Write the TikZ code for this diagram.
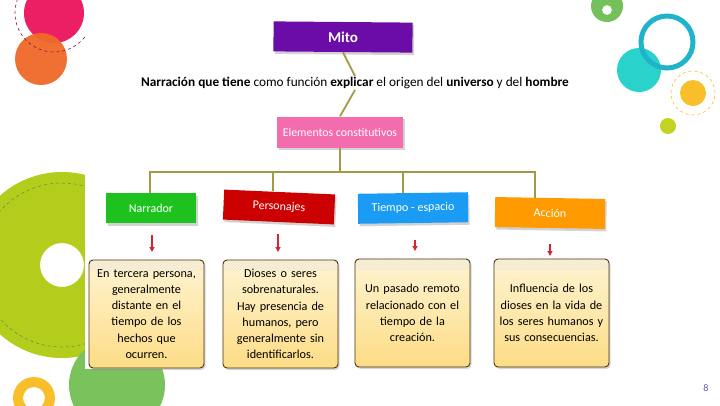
\documentclass[tikz,border=0pt]{standalone}
\usepackage{fontspec}
\setmainfont{Carlito}
\usetikzlibrary{shadows,arrows.meta,patterns}
\definecolor{mpurple}{HTML}{6B0CA8}
\definecolor{mpink}{HTML}{F36CAE}
\definecolor{mgreen}{HTML}{1EC21E}
\definecolor{mred}{HTML}{CC0000}
\definecolor{mblue}{HTML}{1B9CF4}
\definecolor{morange}{HTML}{FF9A00}
\definecolor{olive}{HTML}{A39A45}
\definecolor{arrred}{HTML}{D32630}
\definecolor{cpink}{HTML}{EC1E64}
\definecolor{corange}{HTML}{F0692A}
\definecolor{clime}{HTML}{B4CC1C}
\definecolor{cgreen}{HTML}{7AC35C}
\definecolor{cyellow}{HTML}{F9BF2B}
\definecolor{cteal}{HTML}{1FB4CA}
\definecolor{cturq}{HTML}{29D2CA}
\definecolor{csmall}{HTML}{C4D225}
\definecolor{ctopgreen}{HTML}{74C05A}
\definecolor{boxtop}{HTML}{FFF4D2}
\definecolor{boxbot}{HTML}{FCDC85}
\definecolor{boxborder}{HTML}{4A3210}
\tikzset{
  catbox/.style={minimum width=90pt, minimum height=30pt, inner sep=0pt, text=white, font=\fontsize{12}{12}\selectfont,
     drop shadow={opacity=0.35, shadow xshift=1.5pt, shadow yshift=-2.5pt}},
  infobox/.style={draw=boxborder, line width=0.9pt, rounded corners=4pt, top color=boxtop, bottom color=boxbot,
     minimum width=112pt, minimum height=108pt, inner sep=2pt, align=center, text width=111pt,
     font=\fontsize{12.2}{16.2}\selectfont, drop shadow={opacity=0.3, shadow xshift=1.5pt, shadow yshift=-2pt},
     path picture={\fill[pattern=north east lines, pattern color=boxborder!14]
        (path picture bounding box.north west) rectangle ([yshift=-11pt]path picture bounding box.north east);}},
  conn/.style={draw=olive, line width=1.8pt},
  darr/.style={draw=arrred, line width=1.2pt, -{Triangle[length=5pt,width=5pt]}},
}
\begin{document}
\begin{tikzpicture}[x=1pt,y=-1pt]
\useasboundingbox (0,0) rectangle (720,405);
\fill[white] (0,0) rectangle (720,405);
% decorative circles, left
\fill[clime, even odd rule] (62,265) circle[radius=93pt] (62,265) circle[radius=22pt];
\draw[green!40!black!70, dashed, line width=0.5pt] (62,265) circle[radius=82pt];
\fill[cgreen] (117,385) circle[radius=48pt];
\fill[cyellow, even odd rule] (34,398) circle[radius=21pt] (34,398) circle[radius=11pt];
\fill[cpink] (54,13) circle[radius=30pt];
\fill[corange, opacity=0.95] (41,59) circle[radius=26pt];
\draw[cpink!60!black, dashed, line width=0.6pt] (54,13) circle[radius=39pt];
% decorative circles, right
\fill[cturq] (639,70) circle[radius=22pt];
\draw[cteal, line width=5pt] (667,42) circle[radius=26pt];
\fill[cyellow] (693,93) circle[radius=13pt];
\draw[cyellow!80!orange, dashed, line width=0.5pt] (693,93) circle[radius=22pt];
\fill[csmall] (668,126) circle[radius=8pt];
% white panel
\fill[white] (85,0) rectangle (615,369);
\fill[ctopgreen, even odd rule] (607,6) circle[radius=16pt] (607,10) circle[radius=5pt];
% page number
\node[text=gray!70!blue, font=\fontsize{10}{10}\selectfont] (pg) at (706,388) {8};
% nodes
\node[catbox, fill=mpurple, minimum width=139pt, minimum height=30pt, font=\fontsize{15}{15}\selectfont\bfseries, rotate=-0.5] (mito) at (343,37) {Mito};
\node[font=\fontsize{13.3}{14}\selectfont, inner sep=1pt] (desc) at (355,83) {\textbf{Narración que tiene} como función \textbf{explicar} el origen del \textbf{universo} y del \textbf{hombre}};
\node[catbox, fill=mpink, minimum width=126pt, minimum height=31pt, font=\fontsize{11.8}{12}\selectfont] (elem) at (340,132) {Elementos constitutivos};
\node[catbox, fill=mgreen] (narr) at (151,208) {Narrador};
\node[catbox, fill=mred, minimum width=111pt, rotate=-2.5] (pers) at (279,207) {Personajes};
\node[catbox, fill=mblue, minimum width=110pt, rotate=0.8] (tiem) at (413,208) {Tiempo - espacio};
\node[catbox, fill=morange, minimum width=110pt, rotate=-1] (acc) at (550,213) {Acción};
% connectors
\coordinate (bar) at (340,172);
\draw[conn] (mito.south) -- (desc.north);
\draw[conn] (desc.south) -- (elem.north);
\draw[conn] (elem.south) -- (bar);
\draw[conn] (150,172) -- (535,172);
\draw[conn] (150,171.1) -- (150,193);
\draw[conn] (273,171.1) -- (273,191);
\draw[conn] (403,171.1) -- (403,193);
\draw[conn] (535,171.1) -- (535,198);
% info boxes
\node[infobox] (b1) at (146.5,314) {En tercera persona,\\ generalmente\\ distante en el\\ tiempo de los\\ hechos que\\ ocurren.};
\node[infobox] (b2) at (280.5,314) {Dioses o seres\\ sobrenaturales.\\ Hay presencia de\\ humanos, pero\\ generalmente sin\\ identificarlos.};
\node[infobox] (b3) at (412.5,313) {Un pasado remoto\\ relacionado con el\\ tiempo de la\\ creación.};
\node[infobox] (b4) at (551.5,313) {Influencia de los\\ dioses en la vida de\\ los seres humanos y\\ sus consecuencias.};
% arrows
\draw[darr] (152,235) -- (152,252);
\draw[darr] (278,234) -- (278,252);
\draw[darr] (415,240) -- (415,251);
\draw[darr] (550,244) -- (550,256);
\end{tikzpicture}
\end{document}
